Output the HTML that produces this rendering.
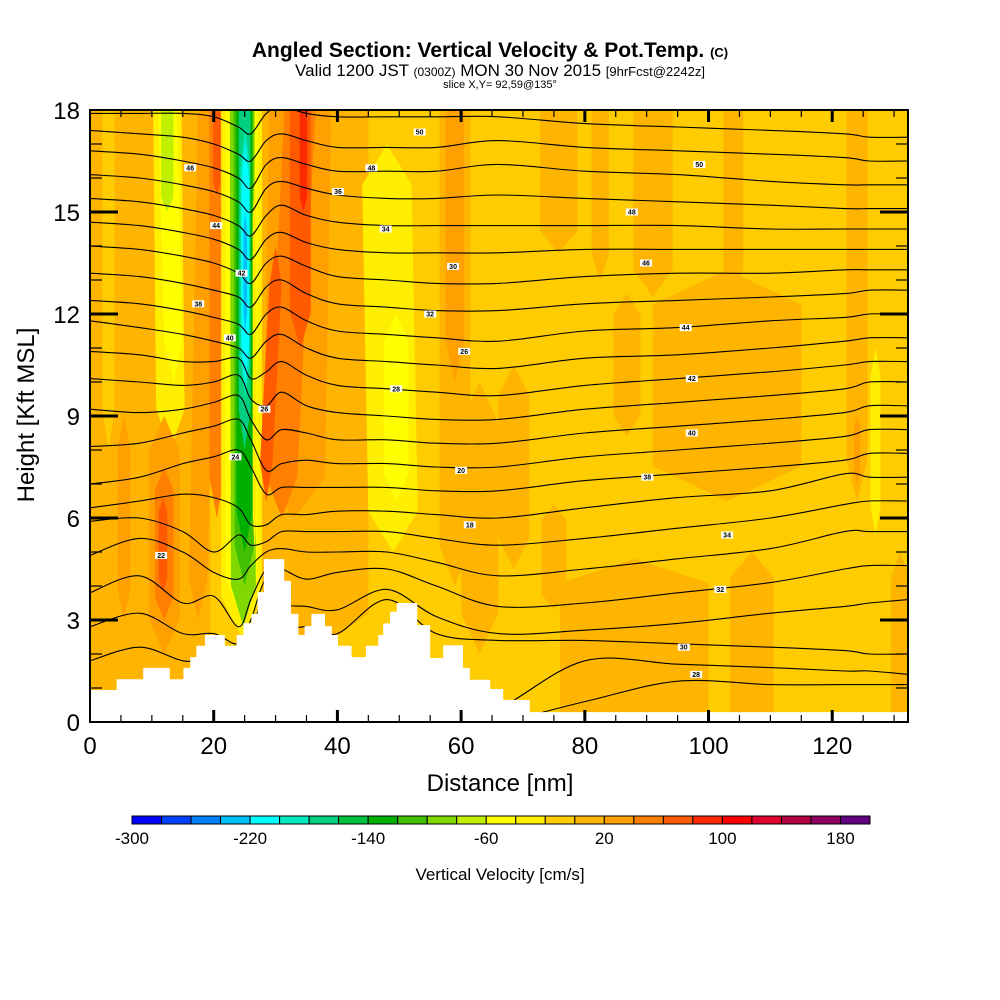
<!DOCTYPE html>
<html><head><meta charset="utf-8">
<style>
html,body{margin:0;padding:0;background:#fff;}
svg{display:block;font-family:"Liberation Sans",Arial,sans-serif;}
</style></head>
<body>
<svg id="chart" width="1000" height="1000" viewBox="0 0 1000 1000">
  <g>
    <text x="490" y="57" text-anchor="middle" font-size="21" font-weight="bold">Angled Section: Vertical Velocity &amp; Pot.Temp. <tspan font-size="13">(C)</tspan></text>
    <text x="500" y="76" text-anchor="middle" font-size="17">Valid 1200 JST <tspan font-size="12">(0300Z)</tspan> MON 30 Nov 2015 <tspan font-size="13">[9hrFcst@2242z]</tspan></text>
    <text x="500" y="88" text-anchor="middle" font-size="11">slice X,Y= 92,59@135°</text>
  </g>
  <defs><clipPath id="plotclip"><rect x="90" y="110" width="818" height="612"/></clipPath></defs>
  <rect x="90" y="110" width="818" height="612" fill="#ffcc00"/>
  <g id="field" clip-path="url(#plotclip)"></g>
  <g id="contours" clip-path="url(#plotclip)"></g>
  <g id="terrain" clip-path="url(#plotclip)"></g>
  <g id="clabels"></g>
  <rect x="90" y="110" width="818" height="612" fill="none" stroke="#000" stroke-width="2"/>
  <g id="axes"></g>
  <text x="500" y="791" text-anchor="middle" font-size="24">Distance [nm]</text>
  <text transform="translate(34,415) rotate(-90)" text-anchor="middle" font-size="24">Height [Kft MSL]</text>
  <g id="colorbar"></g>
  <text x="500" y="880" text-anchor="middle" font-size="17">Vertical Velocity [cm/s]</text>
</svg>
<script>
// ---- data ----
const xMax = 132.25, yMax = 18;
const cbColors = ["#0000ff","#0040ff","#0080ff","#00bfff","#00ffff","#00e8c0","#00d080","#00c040","#00b000","#40c000","#80d800","#c0f000","#ffff00","#ffee00","#ffcc00","#ffb400","#ffa000","#ff8000","#ff5a00","#ff2a00","#ff0000","#e00030","#b00040","#900060","#600080"];
const cbLabels = [-300,-220,-140,-60,20,100,180];
const xTicks = [0,20,40,60,80,100,120];
const yTicks = [0,3,6,9,12,15,18];
// velocity features: bottom center x, top center x, bottom y, top y, half width (nm), value (cm/s)
const stXb = [9.5,3,5.5,17.5,13,13.5,12.5,20.5,20.5,12,12,11.8,36,33,24.5,24.5,24.8,25,25,25,25.1,25.1,25.1,31,34,34.5,28.5,26.6,49,49.5,59,59,75.8,82.5,91,104,103,86.8,124,124,127,68.5,75,88,107,131,63];
const stXt = [9.5,3,5.5,19,12.5,12.5,12.5,20.5,20.5,12,12,11.8,36,34,24.5,24.5,24.6,24.8,24.9,25,25.1,25.1,25.1,34,34,34.5,30,26.6,48,49.5,59,59,75.8,82.5,91,104,103,86.8,124,124,127,68.5,75,88,107,131,63];
const stYb = [0,8,3,3,8,10,15,6,15.5,2,3,3.8,2,6,2.5,3,2.8,4,5,8,9.5,10,11.5,6,11,15,6.5,5,5,6.5,4,10,13.8,13,12.5,12.5,6.5,8.4,6.5,7,5.5,4.5,3.3,0,0,0,2];
const stYt = [18,18,9,18,18,18,18,18,18,9,7.5,6.6,18,18,18,18,18,18,18,18,17.5,17,15,18,18,18,14,16,17,12,18,18,18,18,18,18,13.3,12.6,18,9,11,10.5,6.4,4.8,5,5,10];
const stHW = [10,1,1,1.5,2.3,1.5,1,1.2,0.6,2.5,1.5,0.7,9,5,3.3,2.6,2.0,1.6,1.3,0.95,0.75,0.6,0.3,2.5,1.7,0.6,1.0,0.3,4,2,2.5,1.5,3,1.4,3.2,1.6,12,2.2,1.7,0.5,0.8,2.5,2,12,3.5,1.5,3];
const stV = [10,-10,30,30,-30,-50,-70,50,70,30,50,70,10,30,-30,-50,-90,-110,-130,-170,-190,-210,-230,50,70,90,70,-30,-30,-50,10,30,10,10,10,10,10,10,10,30,-30,10,10,10,10,10,10];
// potential temperature contours: heights (kft) at sample distances
const cX = [0,8,15,20,24,26,28.5,31,35,40,48,56,66,80,95,110,122,126,132.25];
const cLines = [
 [17.9,17.9,17.9,17.8,17.5,17.3,17.9,18.1,17.9,17.8,17.8,17.8,17.8,17.6,17.5,17.4,17.3,17.2,17.2],
 [17.4,17.3,17.2,17.0,16.7,16.5,17.1,17.3,17.1,16.9,16.9,16.9,17.1,16.9,16.8,16.7,16.6,16.5,16.5],
 [16.8,16.7,16.5,16.3,16.0,15.7,16.4,16.6,16.4,16.2,16.2,16.2,16.4,16.2,16.1,15.9,15.8,15.8,15.8],
 [16.1,16.0,15.8,15.6,15.3,15.0,15.7,15.9,15.7,15.5,15.4,15.4,15.5,15.4,15.3,15.2,15.1,15.1,15.1],
 [15.4,15.3,15.1,14.9,14.6,14.3,14.9,15.2,14.9,14.7,14.6,14.6,14.6,14.6,14.6,14.5,14.5,14.5,14.5],
 [14.7,14.6,14.4,14.2,13.9,13.6,14.2,14.4,14.1,13.9,13.8,13.8,13.8,13.9,13.9,13.9,13.9,13.9,13.9],
 [14.0,13.9,13.7,13.5,13.2,12.9,13.5,13.7,13.4,13.1,13.0,12.9,12.9,13.1,13.2,13.2,13.3,13.3,13.3],
 [13.2,13.1,12.9,12.7,12.5,12.2,12.8,13.0,12.6,12.3,12.2,12.1,12.1,12.3,12.4,12.5,12.6,12.7,12.7],
 [12.4,12.3,12.1,11.9,11.7,11.4,12.0,12.2,11.8,11.5,11.4,11.3,11.2,11.5,11.6,11.8,11.9,12.0,12.0],
 [11.8,11.6,11.4,11.2,11.0,10.7,11.2,11.4,11.0,10.7,10.6,10.5,10.4,10.7,10.8,11.0,11.2,11.3,11.3],
 [10.9,10.8,10.6,10.6,10.7,10.1,10.3,10.6,10.2,9.9,9.8,9.7,9.6,9.9,10.1,10.3,10.5,10.6,10.6],
 [10.1,10.0,9.9,10.0,10.2,9.5,9.3,9.7,9.3,9.1,9.0,8.9,8.9,9.2,9.4,9.6,9.8,10.0,10.0],
 [9.2,9.1,9.2,9.4,9.6,8.9,8.3,8.6,8.5,8.3,8.3,8.2,8.2,8.5,8.7,8.9,9.1,9.3,9.3],
 [8.1,8.2,8.5,8.7,8.9,8.3,7.4,7.6,7.7,7.6,7.6,7.5,7.5,7.8,8.0,8.2,8.4,8.6,8.6],
 [7.0,7.2,7.6,7.8,8.0,7.5,6.7,6.9,6.9,6.9,6.9,6.8,6.8,7.1,7.3,7.5,7.7,7.9,7.9],
 [6.3,6.5,6.7,6.6,6.3,5.8,5.8,6.1,6.1,6.2,6.2,6.1,6.0,6.3,6.6,6.8,7.3,7.2,7.2],
 [5.9,6.0,5.6,5.0,5.5,5.2,5.3,5.6,5.6,5.6,5.6,5.4,5.2,5.4,5.7,6.0,6.4,6.5,6.5],
 [4.9,5.4,5.0,4.4,4.2,4.6,5.0,5.1,5.0,5.0,5.0,4.7,4.3,4.5,4.8,5.1,5.6,5.6,5.6],
 [3.8,4.3,3.5,3.7,2.8,3.6,4.5,4.5,4.2,4.4,4.5,4.0,3.4,3.5,3.8,4.1,4.5,4.6,4.6],
 [2.8,3.2,2.6,2.6,2.3,3.0,4.2,3.5,3.4,3.3,3.9,3.1,2.6,2.7,2.9,3.2,3.4,3.5,3.6],
 [1.8,2.2,1.8,1.8,1.6,2.5,3.9,2.8,2.8,2.6,3.6,2.6,2.4,2.4,2.3,2.2,2.1,2.0,2.0],
 [0,0,0,0,0,0,0,0,0,0,0,0,0.4,1.8,1.7,1.6,1.5,1.5,1.4],
 [0,0,0,0,0,0,0,0,0,0,0,0,0,0.6,1.2,1.1,1.1,1.1,1.1]
];
const labX = [53.3,45.5,16.2,20.4,24.5,22.6,17.5,40.1,47.8,55.0,58.7,49.5,28.2,23.5,11.5,98.5,87.6,89.9,96.3,97.3,97.3,90.1,103.0,101.9,96.0,98.0,60.5,60.0,61.4];
const labY = [17.35,16.3,16.3,14.6,13.2,11.3,12.3,15.6,14.5,12.0,13.4,9.8,9.2,7.8,4.9,16.4,15.0,13.5,11.6,10.1,8.5,7.2,5.5,3.9,2.2,1.4,10.9,7.4,5.8];
const labT = ["50","48","46","44","42","40","38","36","34","32","30","28","26","24","22","50","48","46","44","42","40","38","34","32","30","28","26","20","18"];
// terrain: step starts (nm) and step heights (kft)
const terrX = [0,4.3,8.6,12.9,15.1,16.2,17.2,18.6,21.8,23.7,24.8,26.1,27.1,28.1,31.4,32.5,33.7,34.7,35.8,38.0,39.1,40.1,42.3,44.6,46.6,47.4,48.5,49.6,52.9,55.0,57.1,60.3,61.4,64.7,66.8,71.1];
const terrH = [0.94,1.26,1.59,1.26,1.59,1.91,2.24,2.56,2.24,2.56,2.91,3.18,3.82,4.79,4.15,3.18,2.56,2.82,3.18,2.82,2.56,2.24,1.91,2.24,2.56,2.9,3.24,3.5,2.85,1.88,2.26,1.59,1.24,0.97,0.65,0.29];

// ---- scales ----
const X0=90, X1=908, Y0=722, Y1=110;
const sx = v => X0 + v/xMax*(X1-X0);
const sy = v => Y0 - v/yMax*(Y0-Y1);
const NS = "http://www.w3.org/2000/svg";
const mk = (tag, parent) => { const e = document.createElementNS(NS, tag); parent.appendChild(e); return e; };
const colorOf = v => cbColors[Math.max(0, Math.min(24, Math.floor((v+300)/20)))];

// ---- field ----
const field = document.getElementById('field');
for (let i=0;i<stV.length;i++){
  let yb = stYb[i], yt = stYt[i];
  const t = Math.min(1.2, (yt-yb)*0.15);
  if (yt >= 18) yt = 18 + t + 0.2;
  if (yb <= 0.3) yb = -t - 0.2;
  const hw = stHW[i];
  const pts = [[stXb[i]-hw, yb+t],[stXb[i], yb],[stXb[i]+hw, yb+t],[stXt[i]+hw, yt-t],[stXt[i], yt],[stXt[i]-hw, yt-t]];
  const p = mk('polygon', field);
  p.setAttribute('points', pts.map(q=>sx(q[0]).toFixed(1)+','+sy(q[1]).toFixed(1)).join(' '));
  p.setAttribute('fill', colorOf(stV[i]));
  
  
}

// ---- contours (Catmull-Rom) ----
const cont = document.getElementById('contours');
cLines.forEach((line, li) => {
  const P = line.map((h,k)=>[sx(cX[k]), sy(h)]);
  let d = 'M'+P[0][0].toFixed(1)+','+P[0][1].toFixed(1);
  for (let k=0;k<P.length-1;k++){
    const p0=P[Math.max(0,k-1)], p1=P[k], p2=P[k+1], p3=P[Math.min(P.length-1,k+2)];
    const c1=[p1[0]+(p2[0]-p0[0])/6, p1[1]+(p2[1]-p0[1])/6];
    const c2=[p2[0]-(p3[0]-p1[0])/6, p2[1]-(p3[1]-p1[1])/6];
    d += ' C'+c1[0].toFixed(1)+','+c1[1].toFixed(1)+' '+c2[0].toFixed(1)+','+c2[1].toFixed(1)+' '+p2[0].toFixed(1)+','+p2[1].toFixed(1);
  }
  const path = mk('path', cont);
  path.setAttribute('d', d);
  path.setAttribute('fill', 'none');
  path.setAttribute('stroke', '#000');
  path.setAttribute('stroke-width', '1.1');
  
  
});

// ---- terrain ----
const terr = document.getElementById('terrain');
let tp = 'M'+sx(0)+','+(Y0+2);
for (let i=0;i<terrX.length;i++){
  const xe = i<terrX.length-1 ? terrX[i+1] : xMax+1;
  tp += ' L'+sx(terrX[i]).toFixed(1)+','+sy(terrH[i]).toFixed(1)+' L'+sx(xe).toFixed(1)+','+sy(terrH[i]).toFixed(1);
}
tp += ' L'+(X1+2)+','+(Y0+2)+' Z';
const tpath = mk('path', terr);
tpath.setAttribute('d', tp);
tpath.setAttribute('fill', '#fff');



// ---- contour labels ----
const cl = document.getElementById('clabels');
for (let i=0;i<labT.length;i++){
  const g = mk('g', cl);
  
  
  const r = mk('rect', g);
  r.setAttribute('x', sx(labX[i])-6); r.setAttribute('y', sy(labY[i])-3.5);
  r.setAttribute('width', 12); r.setAttribute('height', 7); r.setAttribute('fill', '#fff');
  const t = mk('text', g);
  t.setAttribute('x', sx(labX[i])); t.setAttribute('y', sy(labY[i])+2.5);
  t.setAttribute('text-anchor', 'middle'); t.setAttribute('font-size', '7'); t.setAttribute('font-weight', 'bold');
  t.textContent = labT[i];
}

// ---- axes ----
const ax = document.getElementById('axes');
const line = (x1,y1,x2,y2,w,name) => {
  const l = mk('line', ax);
  l.setAttribute('x1',x1); l.setAttribute('y1',y1); l.setAttribute('x2',x2); l.setAttribute('y2',y2);
  l.setAttribute('stroke','#000'); l.setAttribute('stroke-width',w);
  
  
};
for (let v=5; v<xMax; v+=5){
  const major = v%20===0;
  const L = major?12:7, w = major?3:1.2;
  line(sx(v), Y0, sx(v), Y0-L, w, 'x-tick');
  line(sx(v), Y1, sx(v), Y1+L, w, 'x-tick-top');
}
for (let v=1; v<yMax; v+=1){
  const major = v%3===0;
  const L = major?28:12, w = major?3:1.2;
  line(X0, sy(v), X0+L, sy(v), w, 'y-tick');
  line(X1, sy(v), X1-L, sy(v), w, 'y-tick-right');
}
xTicks.forEach(v=>{
  const t = mk('text', ax);
  t.setAttribute('x', sx(v)); t.setAttribute('y', 754); t.setAttribute('text-anchor','middle'); t.setAttribute('font-size','24');
  
  
  t.textContent = v;
});
yTicks.forEach(v=>{
  const t = mk('text', ax);
  t.setAttribute('x', 80); t.setAttribute('y', sy(v)+9); t.setAttribute('text-anchor','end'); t.setAttribute('font-size','24');
  
  
  t.textContent = v;
});

// ---- colorbar ----
const cb = document.getElementById('colorbar');
const CB0 = 132, CBW = 29.52, CBY = 816, CBH = 8;
cbColors.forEach((c,i)=>{
  const r = mk('rect', cb);
  r.setAttribute('x', CB0+i*CBW); r.setAttribute('y', CBY); r.setAttribute('width', CBW); r.setAttribute('height', CBH);
  r.setAttribute('fill', c); r.setAttribute('stroke', '#000'); r.setAttribute('stroke-width', '1');
  
  
});
cbLabels.forEach(v=>{
  const t = mk('text', cb);
  t.setAttribute('x', CB0 + (v+300)/20*CBW); t.setAttribute('y', 844); t.setAttribute('text-anchor','middle'); t.setAttribute('font-size','17');
  
  
  t.textContent = v;
});
</script>
</body></html>
